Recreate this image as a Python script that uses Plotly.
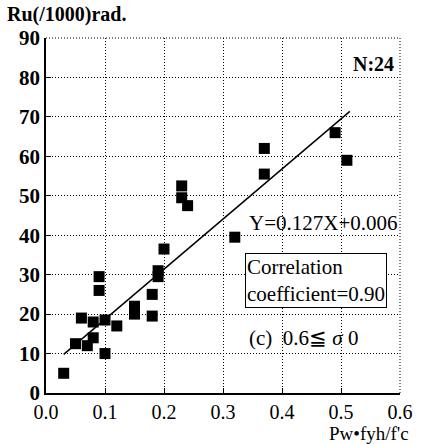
import plotly.graph_objects as go

# Data
pw_fyh_fc = [0.03, 0.05, 0.06, 0.07, 0.08, 0.08, 0.10, 0.10, 0.12, 0.15, 0.15,
             0.18, 0.18, 0.09, 0.09, 0.19, 0.19, 0.20, 0.23, 0.23, 0.24,
             0.37, 0.37, 0.51, 0.32, 0.49]
ru = [5, 12.5, 19, 12, 14, 18, 18.5, 10, 17, 22, 20,
      19.5, 25, 26, 29.5, 31, 29.5, 36.5, 52.5, 49.5, 47.5,
      62, 55.5, 59, 39.5, 66]
fit_x = [0.03, 0.515]
slope, intercept = 127, 6
fit_y = [slope * v + intercept for v in fit_x]

x_ticks = [0.0, 0.1, 0.2, 0.3, 0.4, 0.5, 0.6]
x_tick_text = ["0.0", "0.1", "0.2", "0.3", "0.4", "0.5", "0.6"]
y_ticks = [0, 10, 20, 30, 40, 50, 60, 70, 80, 90]

serif = "Liberation Serif"
dotted = "1px,2px"

fig = go.Figure()
fig.add_trace(go.Scatter(x=fit_x, y=fit_y, mode="lines",
                         line=dict(color="black", width=1.5), showlegend=False))
fig.add_trace(go.Scatter(x=pw_fyh_fc, y=ru, mode="markers",
                         marker=dict(symbol="square", size=11, color="black"),
                         showlegend=False))

fig.update_layout(
    width=425, height=444,
    margin=dict(l=46, r=18, t=38, b=51),
    paper_bgcolor="white", plot_bgcolor="white",
    font=dict(family=serif, color="black"),
    xaxis=dict(range=[0, 0.6], tickvals=x_ticks, ticktext=x_tick_text,
               showgrid=True, gridcolor="black", griddash=dotted, gridwidth=1,
               showline=True, linecolor="black", linewidth=1.5,
               ticks="inside", ticklen=5, tickcolor="black",
               tickfont=dict(size=20, family=serif), zeroline=False),
    yaxis=dict(range=[0, 90], tickvals=y_ticks,
               showgrid=True, gridcolor="black", griddash=dotted, gridwidth=1,
               showline=True, linecolor="black", linewidth=1.5,
               ticks="inside", ticklen=5, tickcolor="black",
               tickfont=dict(size=21, family=serif, weight="bold"), zeroline=False),
    shapes=[
        dict(type="line", xref="paper", yref="paper", x0=0, x1=1, y0=1, y1=1,
             line=dict(color="black", width=1, dash=dotted)),
        dict(type="line", xref="paper", yref="paper", x0=1, x1=1, y0=0, y1=1,
             line=dict(color="black", width=1, dash=dotted)),
    ],
    annotations=[
        dict(text="<b>Ru(/1000)rad.</b>", xref="paper", yref="paper",
             x=-0.115, y=1.0, xanchor="left", yanchor="bottom", yshift=10,
             showarrow=False, font=dict(size=20, family=serif)),
        dict(text="Pw•fyh/f'c", xref="paper", yref="paper",
             x=1.03, y=0, xanchor="right", yanchor="top", yshift=-28,
             showarrow=False, font=dict(size=19, family=serif)),
        dict(text="<b>N:24</b>", x=0.594, y=83.5, xanchor="right", yanchor="middle",
             showarrow=False, font=dict(size=20, family=serif)),
        dict(text="Y=0.127X+0.006", x=0.6, y=43, xanchor="right", yanchor="middle",
             showarrow=False, font=dict(size=21, family=serif)),
        dict(text="Correlation<br>coefficient=0.90", x=0.338, y=35.5,
             xanchor="left", yanchor="top", align="left",
             showarrow=False, font=dict(size=21, family=serif),
             bordercolor="black", borderwidth=1, borderpad=1, bgcolor="white"),
        dict(text="(c)  0.6≦ <i>σ</i> 0", x=0.437, y=14, xanchor="center", yanchor="middle",
             showarrow=False, font=dict(size=21, family=serif)),
    ],
)

fig.write_html("out.html")
